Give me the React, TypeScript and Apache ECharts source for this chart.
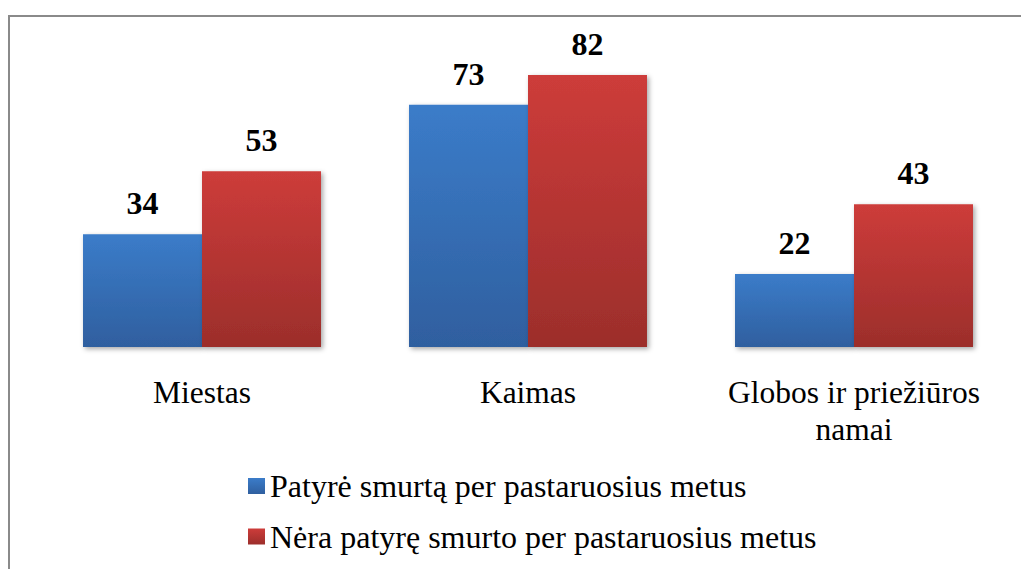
import React, { useEffect, useRef } from "react";
import * as echarts from "echarts";

const categories = ["Miestas", "Kaimas", "Globos ir priežiūros namai"];
const seriesNames = [
  "Patyrė smurtą per pastaruosius metus",
  "Nėra patyrę smurto per pastaruosius metus",
];
const experienced = [34, 73, 22];
const notExperienced = [53, 82, 43];

const FONT = "'Liberation Serif', 'Times New Roman', serif";

const grad = (top: string, bottom: string) =>
  new echarts.graphic.LinearGradient(0, 0, 0, 1, [
    { offset: 0, color: top },
    { offset: 1, color: bottom },
  ]);

export default function App() {
  const ref = useRef<HTMLDivElement>(null);
  useEffect(() => {
    if (!ref.current) return;
    const chart = echarts.init(ref.current, undefined, { renderer: "svg" });
    const blue = grad("#3b7cc9", "#2f5f9f");
    const red = grad("#cd3c3a", "#9c2e2b");
    const barStyle = {
      shadowColor: "rgba(0,0,0,0.35)",
      shadowBlur: 5,
      shadowOffsetX: 2,
      shadowOffsetY: 2,
    };
    const label = {
      show: true,
      position: "top" as const,
      distance: 15,
      fontFamily: FONT,
      fontWeight: "bold" as const,
      fontSize: 32,
      color: "#000",
    };
    chart.setOption({
      animation: false,
      backgroundColor: "#fff",
      textStyle: { fontFamily: FONT },
      graphic: [
        {
          type: "rect",
          shape: { x: 9, y: 16, width: 1100, height: 700 },
          style: { fill: "none", stroke: "#8a8a8a", lineWidth: 2 },
          silent: true,
          z: -1,
        },
      ],
      grid: { left: 39, right: 4, top: 15.3, bottom: 569 - 347 },
      legend: {
        orient: "vertical",
        left: 243,
        top: 463,
        itemWidth: 17,
        itemHeight: 16,
        itemGap: 14.5,
        icon: "rect",
        textStyle: { fontFamily: FONT, fontSize: 32, color: "#000", lineHeight: 36 },
        data: seriesNames,
      },
      xAxis: {
        type: "category",
        data: categories,
        axisLine: {
          show: true,
          lineStyle: {
            color: "#9a9a9a",
            width: 2,
            shadowColor: "rgba(0,0,0,0.25)",
            shadowBlur: 2,
            shadowOffsetY: 1,
          },
        },
        axisTick: { show: false },
        axisLabel: {
          fontFamily: FONT,
          fontSize: 31.5,
          color: "#000",
          lineHeight: 37,
          margin: 27,
          interval: 0,
          formatter: (v: string) => v.replace("priežiūros ", "priežiūros\n"),
        },
      },
      yAxis: {
        type: "value",
        min: 0,
        max: 100,
        show: false,
        splitLine: { show: false },
      },
      series: [
        {
          name: seriesNames[0],
          type: "bar",
          data: experienced,
          barGap: "0%",
          barCategoryGap: "27%",
          itemStyle: { color: blue, ...barStyle },
          label,
        },
        {
          name: seriesNames[1],
          type: "bar",
          data: notExperienced,
          barGap: "0%",
          barCategoryGap: "27%",
          itemStyle: { color: red, ...barStyle },
          label,
        },
      ],
    });
    return () => chart.dispose();
  }, []);
  return (
    <div
      ref={ref}
      style={{ position: "absolute", left: 0, top: 0, width: 1021, height: 569 }}
    />
  );
}
